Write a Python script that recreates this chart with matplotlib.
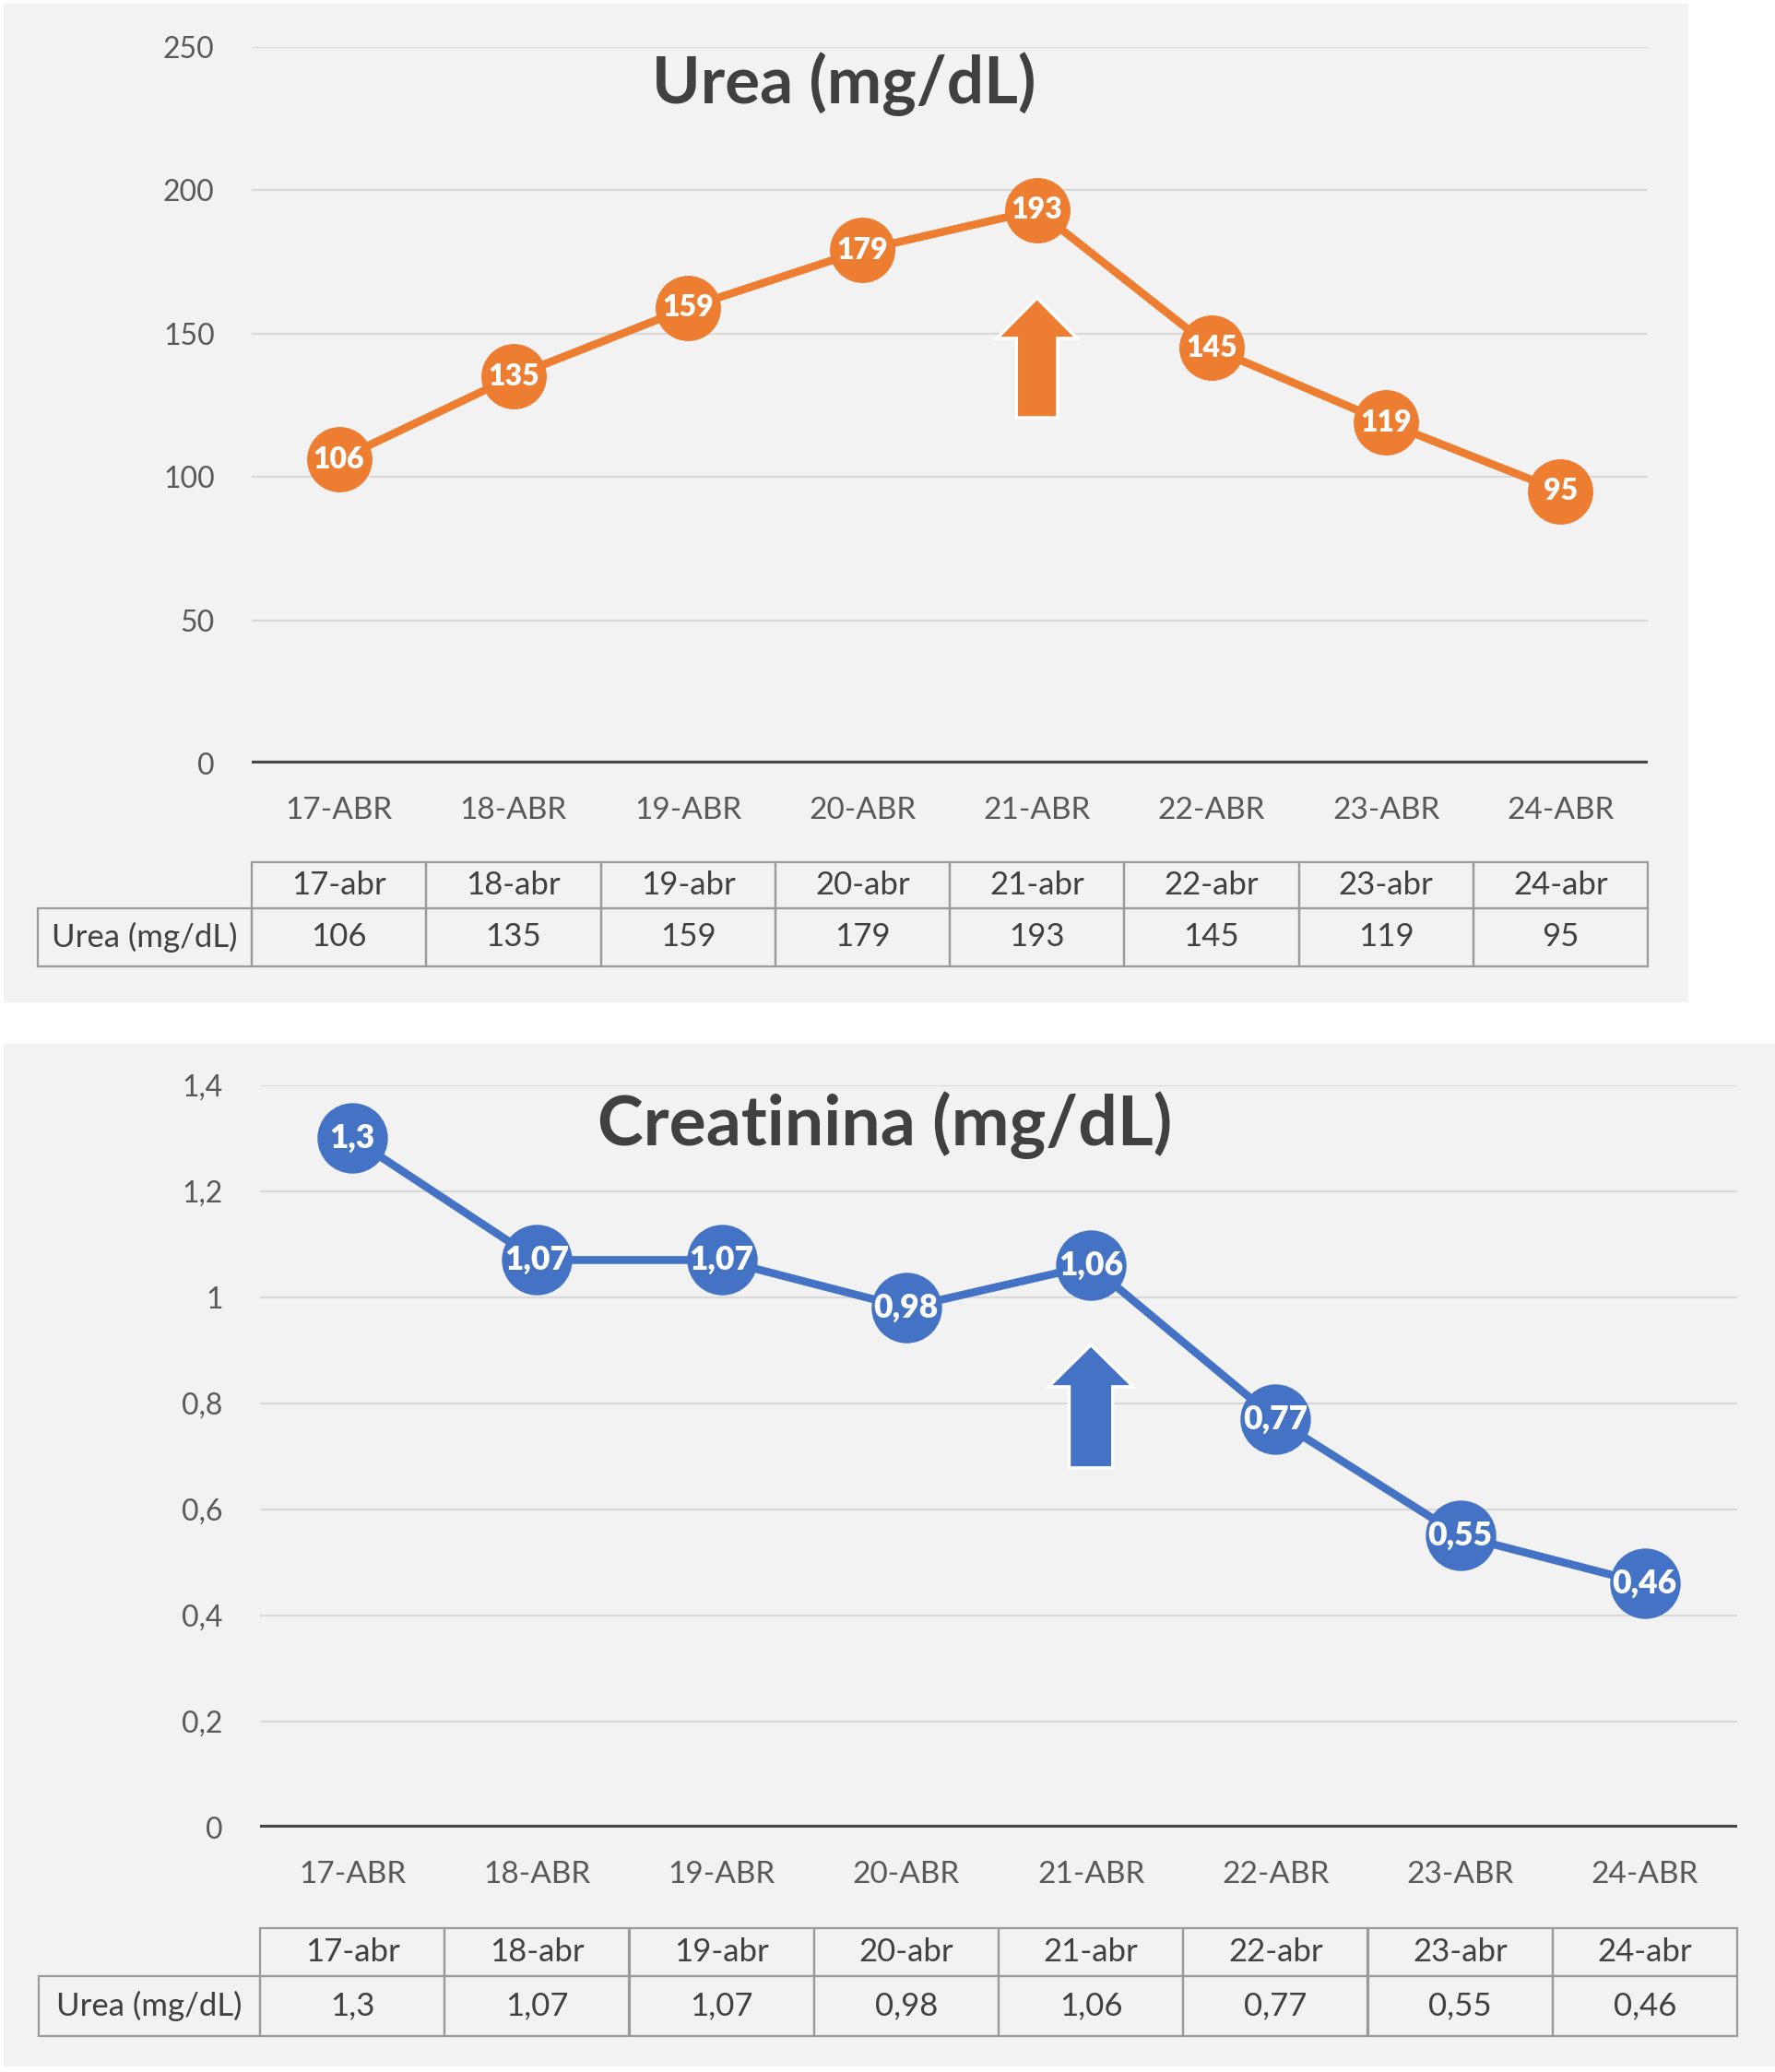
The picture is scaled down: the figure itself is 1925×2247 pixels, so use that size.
import numpy as np
import matplotlib
matplotlib.use("Agg")
import matplotlib.pyplot as plt
from matplotlib.patches import Rectangle
from matplotlib.table import Table

plt.rcParams['font.family'] = ['Lato', 'DejaVu Sans']

# data
dias_eje = ['17-ABR', '18-ABR', '19-ABR', '20-ABR', '21-ABR', '22-ABR', '23-ABR', '24-ABR']
dias_tabla = ['17-abr', '18-abr', '19-abr', '20-abr', '21-abr', '22-abr', '23-abr', '24-abr']
urea = [106, 135, 159, 179, 193, 145, 119, 95]
creatinina = [1.3, 1.07, 1.07, 0.98, 1.06, 0.77, 0.55, 0.46]

urea_ticks = [0, 50, 100, 150, 200, 250]
urea_ticklabels = ['0', '50', '100', '150', '200', '250']
creat_ticks = [0, 0.2, 0.4, 0.6, 0.8, 1.0, 1.2, 1.4]
creat_ticklabels = ['0', '0,2', '0,4', '0,6', '0,8', '1', '1,2', '1,4']

fila_label = 'Urea (mg/dL)'  # same label used in both tables
ORANGE = '#ED7D31'
BLUE = '#4472C4'
DARK = '#404040'
GREY = '#595959'


def fmt(v):
    return str(v).replace('.', ',')


def draw_panel(ax, values, color, ticks, ticklabels, ymax, ms, lab_size, arrow, tab_box):
    x = np.arange(len(values))
    ax.set_facecolor('none')
    for s in ax.spines.values():
        s.set_visible(False)
    ax.set_xlim(-0.5, len(values) - 0.5)
    ax.set_ylim(0, ymax)
    ax.set_yticks(ticks, ticklabels)
    ax.grid(axis='y', color='#d9d9d9', lw=1.6)
    ax.set_axisbelow(True)
    ax.axhline(0, color='#474747', lw=4.5, zorder=2)
    ax.tick_params(axis='y', length=0, pad=29, labelsize=23, labelcolor=GREY)
    ax.set_xticks(x, dias_eje)
    ax.tick_params(axis='x', length=0, pad=37, labelsize=24, labelcolor=GREY)
    for t in ax.get_xticklabels():
        t.set_verticalalignment('center')

    # arrow under the 21-abr point
    ax.arrow(arrow[0], arrow[1], 0, arrow[2] - arrow[1], width=0.236, head_width=0.46,
             head_length=arrow[3], length_includes_head=True, fc=color, ec='white',
             lw=2.5, zorder=3)

    ax.plot(x, values, color=color, lw=6.2, marker='o', ms=ms, mec=color, zorder=4)
    for xi, v in zip(x, values):
        ax.text(xi, v, fmt(v), ha='center', va='center', color='white', fontsize=lab_size,
                fontweight='heavy', zorder=5)

    # data table below the axis
    x0, top, split, bottom = tab_box
    n = len(values)
    cw = 1.0 / n
    tab = Table(ax, bbox=[0, bottom, 1, top - bottom])
    h_head = top - split
    h_data = split - bottom
    for j in range(n):
        tab.add_cell(0, j, width=cw, height=h_head, text=dias_tabla[j], loc='center')
        tab.add_cell(1, j, width=cw, height=h_data, text=fmt(values[j]), loc='center')
    tab.add_cell(1, -1, width=-x0, height=h_data, text=fila_label, loc='center')
    tab.auto_set_font_size(False)
    tab.set_fontsize(25)
    for c in tab.get_celld().values():
        c.set_facecolor('none')
        c.set_edgecolor('#9a9a9a')
        c.set_linewidth(1.6)
        c.get_text().set_color(DARK)
    tab.set_clip_on(False)
    ax.add_table(tab)


fig = plt.figure(figsize=(19.25, 22.47), dpi=100)
fig.patch.set_facecolor('white')
W, H = 1925.0, 2247.0
fig.patches.append(Rectangle((4 / W, 1 - 1087 / H), 1827 / W, 1083 / H,
                             transform=fig.transFigure, fc='#f2f2f2', ec='none', zorder=-5))
fig.patches.append(Rectangle((4 / W, 1 - 2241 / H), 1921 / W, 1109 / H,
                             transform=fig.transFigure, fc='#f2f2f2', ec='none', zorder=-5))

ax1 = fig.add_axes([273 / W, 1 - 828 / H, 1514 / W, 777.3 / H])
draw_panel(ax1, urea, ORANGE, urea_ticks, urea_ticklabels, 250, 50, 23,
           (4, 120.6, 162.4, 14.1), (-0.1532, -0.1377, -0.2020, -0.2830))
fig.text(915 / W, 1 - 112 / H, 'Urea (mg/dL)', ha='center', va='baseline',
         fontsize=51, fontweight='bold', color=DARK)

ax2 = fig.add_axes([282 / W, 1 - 1981.7 / H, 1602 / W, 805 / H])
draw_panel(ax2, creatinina, BLUE, creat_ticks, creat_ticklabels, 1.4, 54, 25.5,
           (4, 0.678, 0.910, 0.079), (-0.1498, -0.1354, -0.2000, -0.2807))
fig.text(960 / W, 1 - 1242 / H, 'Creatinina (mg/dL)', ha='center', va='baseline',
         fontsize=54, fontweight='bold', color=DARK)

fig.savefig('out.png', dpi=100, facecolor='white')
